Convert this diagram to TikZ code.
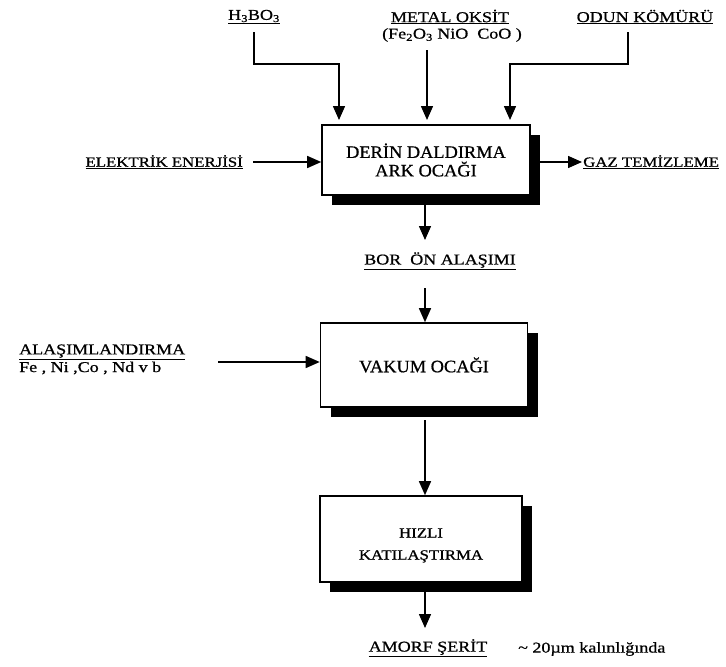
\documentclass[tikz,border=0pt]{standalone}
\usepackage{fontspec}
\setmainfont{Liberation Serif}
\newfontfamily\lblfont[FakeStretch=1.2,FakeBold=0.8]{Liberation Serif}
\newfontfamily\boxfont[FakeStretch=1.05,FakeBold=0.8]{Liberation Serif}
\usetikzlibrary{arrows.meta,shadows}
\begin{document}
\begin{tikzpicture}[x=1pt,y=-1pt,
  arr/.style={line width=1.5pt,-{Triangle[length=14pt,width=12pt]}},
  procbox/.style={draw,line width=1.6pt,fill=white,align=center,
    drop shadow={fill=black,opacity=1,shadow xshift=10pt,shadow yshift=-10pt}},
  bigtxt/.style={font=\boxfont\fontsize{17.5}{18.5}\selectfont},
  smalltxt/.style={font=\lblfont\fontsize{14}{22}\selectfont},
  lbl/.style={font=\lblfont\fontsize{15}{17}\selectfont,inner sep=1pt,align=left},
  sidelbl/.style={lbl,font=\lblfont\fontsize{14}{17}\selectfont}]
\useasboundingbox (0,0) rectangle (726,667);
% top inputs
\node[lbl] (h3bo3) at (254,17) {\underline{H\textsubscript{3}BO\textsubscript{3}}};
\node[lbl] (metal) at (450,17) {\underline{METAL OKSİT}};
\node[lbl] (feo) at (452,35) {(Fe\textsubscript{2}O\textsubscript{3} NiO\ \ CoO )};
\node[lbl] (odun) at (645,17) {\underline{ODUN KÖMÜRÜ}};
% box 1
\node[procbox,bigtxt,minimum width=208pt,minimum height=70pt] (box1) at (426,160) {DERİN DALDIRMA\\ARK OCAĞI};
\coordinate (c1) at (339,64);
\coordinate (c2) at (510,64);
\coordinate (m0) at (427,50);
\coordinate (bt) at (0,120);
\draw[arr] (h3bo3.south |- 0,32) |- (c1) -- (c1 |- bt);
\draw[arr] (m0) -- (m0 |- bt);
\draw[arr] (628,32) |- (c2) -- (c2 |- bt);
\node[sidelbl,anchor=east] (elek) at (244,162) {\underline{ELEKTRİK ENERJİSİ}};
\coordinate (e0) at (253,162);
\draw[arr] (e0) -- (e0 -| box1.west);
\node[sidelbl,anchor=west] (gaz) at (582,162) {\underline{GAZ\ TEMİZLEME}};
\coordinate (g0) at (540,162);
\draw[arr] (g0) -- (gaz.west);
% bor
\node[lbl] (bor) at (440,261) {\underline{BOR\ \ ÖN\ ALAŞIMI}};
\coordinate (b0) at (425,205);
\draw[arr] (b0) -- (425,240);
% box 2
\node[procbox,bigtxt,minimum width=207pt,minimum height=84pt] (box2) at (424,365) {VAKUM OCAĞI};
\coordinate (v0) at (425,288);
\draw[arr] (v0) -- (v0 |- box2.north);
\node[lbl,anchor=west] (alas) at (18,352) {\underline{ALAŞIMLANDIRMA}};
\node[lbl,anchor=west] (fe) at (18,368) {Fe , Ni ,Co , Nd v b};
\coordinate (a0) at (218,362);
\draw[arr] (a0) -- (a0 -| box2.west);
% box 3
\node[procbox,smalltxt,minimum width=202pt,minimum height=86pt] (box3) at (421,539) {\rule{0pt}{22pt}HIZLI\\KATILAŞTIRMA};
\coordinate (h0) at (425,420);
\draw[arr] (h0) -- (h0 |- box3.north);
% output
\node[lbl] (amorf) at (428,648) {\underline{AMORF ŞERİT}};
\node[lbl,anchor=west] (kal) at (517,649) {\textasciitilde\ 20µm kalınlığında};
\coordinate (s0) at (425,592);
\draw[arr] (s0) -- (425,628);
\end{tikzpicture}
\end{document}
